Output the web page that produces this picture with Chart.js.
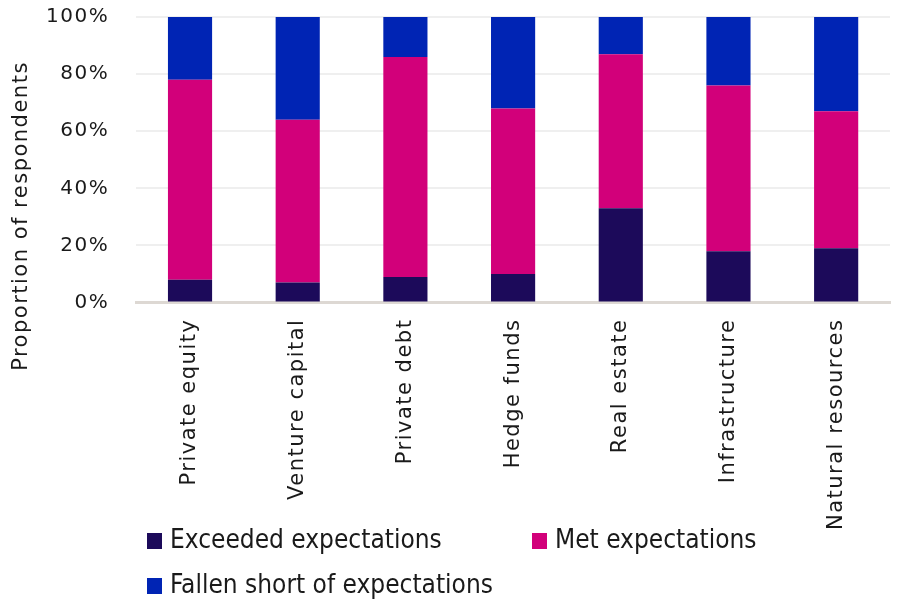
<!DOCTYPE html>
<html>
<head>
<meta charset="utf-8">
<script src="https://cdn.jsdelivr.net/npm/chart.js@4.4.1/dist/chart.umd.min.js"></script>
<style>
  html, body { margin: 0; padding: 0; background: #fff; }
  .wrap { position: relative; width: 900px; height: 599px; }
  .legend { position: absolute; left: 147px; top: 524px; width: 740px;
    font-family: "Liberation Sans Narrow", "DejaVu Sans Condensed", sans-serif; font-size: 26px; color: #1a1a1a; }
  .legend .item { position: absolute; white-space: nowrap; line-height: 30px; }
  .legend .sw { display: inline-block; width: 15px; height: 16px; margin-right: 8px; vertical-align: -1px; }
</style>
</head>
<body>
<div class="wrap">
  <canvas id="chart" width="900" height="599"></canvas>
  <div class="legend" id="legend"></div>
</div>
<script>
const categories = ['Private equity', 'Venture capital', 'Private debt', 'Hedge funds', 'Real estate', 'Infrastructure', 'Natural resources'];
const exceeded = [8, 7, 9, 10, 33, 18, 19];
const met = [70, 57, 77, 58, 54, 58, 48];
const fallenShort = [22, 36, 14, 32, 13, 24, 33];
const yTicks = [0, 20, 40, 60, 80, 100];

const colors = ['#1c0a5a', '#d2007a', '#0024b4'];
const names = ['Exceeded expectations', 'Met expectations', 'Fallen short of expectations'];

const font = '"DejaVu Sans", sans-serif';

// espacement des lettres pour élargir la police
const spacing = {
    id: 'spacing',
    beforeLayout(chart) { chart.ctx.letterSpacing = '1.5px'; },
    beforeDraw(chart) { chart.ctx.letterSpacing = '1.5px'; }
};

// titre de l'axe Y, centré plus bas que la zone du graphique
const yTitle = {
    id: 'yTitle',
    afterDraw(chart) {
        const c = chart.ctx;
        c.save();
        c.translate(22, 216);
        c.rotate(-Math.PI / 2);
        c.font = '21px ' + font;
        c.letterSpacing = '1.5px';
        c.fillStyle = '#1a1a1a';
        c.textAlign = 'center';
        c.textBaseline = 'middle';
        c.fillText('Proportion of respondents', 0, 0);
        c.restore();
    }
};

new Chart(document.getElementById('chart'), {
    type: 'bar',
    data: {
        labels: categories,
        datasets: [
            { label: names[0], data: exceeded, backgroundColor: colors[0] },
            { label: names[1], data: met, backgroundColor: colors[1] },
            { label: names[2], data: fallenShort, backgroundColor: colors[2] }
        ]
    },
    options: {
        responsive: false,
        animation: false,
        layout: { padding: { left: 42, right: 10, top: 17, bottom: 61 } },
        datasets: { bar: { categoryPercentage: 1, barPercentage: 0.41 } },
        scales: {
            x: {
                stacked: true,
                grid: { display: false },
                border: { display: true, color: '#ddd8d3', width: 3 },
                ticks: {
                    minRotation: 90, maxRotation: 90,
                    padding: 8,
                    color: '#1a1a1a',
                    font: { family: font, size: 21 }
                }
            },
            y: {
                stacked: true,
                min: 0, max: 100,
                afterBuildTicks(axis) { axis.ticks = yTicks.map(v => ({ value: v })); },
                grid: { color: '#efefef', lineWidth: 2, drawTicks: true, tickLength: 23, tickColor: 'rgba(0,0,0,0)' },
                border: { display: false },
                ticks: {
                    padding: 4,
                    color: '#1a1a1a',
                    font: { family: font, size: 20 },
                    callback: v => v + '%'
                }
            }
        },
        plugins: {
            legend: { display: false },
            tooltip: { enabled: false }
        }
    },
    plugins: [spacing, yTitle]
});

// légende en HTML, deux colonnes
const legend = document.getElementById('legend');
const spots = [[0, 0], [385, 0], [0, 45]];
names.forEach((n, i) => {
    const el = document.createElement('div');
    el.className = 'item';
    el.style.left = spots[i][0] + 'px';
    el.style.top = spots[i][1] + 'px';
    el.innerHTML = '<span class="sw" style="background:' + colors[i] + '"></span>' + n;
    legend.appendChild(el);
});
</script>
</body>
</html>
